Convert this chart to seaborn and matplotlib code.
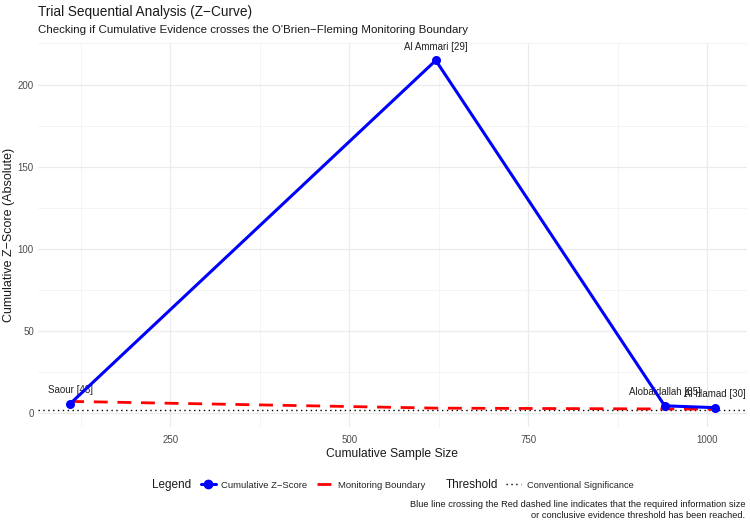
import pandas as pd
import seaborn as sns
import matplotlib.pyplot as plt
from matplotlib.lines import Line2D

# trial data
studies = ["Saour [48]", "Al Ammari [29]", "Alobaidallah [85]", "Al Hamad [30]"]
cum_n = [110, 621, 941, 1011]
cum_z = [5.5, 214.7, 4.2, 3.1]
boundary = [6.9, 2.8, 2.3, 2.2]
threshold = 1.96

df = pd.DataFrame({"study": studies, "n": cum_n, "z": cum_z, "bound": boundary})

sns.set_theme(style="whitegrid")
plt.rcParams["font.family"] = ["Liberation Sans", "DejaVu Sans"]

fig = plt.figure(figsize=(7.5, 5.27), dpi=100)
ax = fig.add_axes([38 / 750, 1 - 427 / 527, 709 / 750, 384 / 527])

grid_c = "#ebebeb"
ax.set_facecolor("white")
for s in ax.spines.values():
    s.set_visible(False)

# threshold, boundary, z-curve
ax.axhline(threshold, color="black", lw=1.0, ls=(0, (1, 2.5)), zorder=2)
sns.lineplot(data=df, x="n", y="bound", ax=ax, color="red", lw=2.0,
             dashes=False, legend=False, zorder=3)
ax.lines[-1].set_linestyle((0, (5, 3.5)))
sns.lineplot(data=df, x="n", y="z", ax=ax, color="blue", lw=2.2,
             marker="o", markersize=6.5, markeredgewidth=0, legend=False, zorder=4)

for _, r in df.iterrows():
    ax.annotate(r["study"], (r["n"], r["z"]), xytext=(0, 6), textcoords="offset points",
                ha="center", va="bottom", fontsize=7, color="#222222")

ax.set_xlim(65, 1056)
ax.set_ylim(-8.7, 225.3)
ax.set_xticks([250, 500, 750, 1000])
ax.set_xticks([125, 375, 625, 875], minor=True)
ax.set_yticks([0, 50, 100, 150, 200])
ax.set_yticks([25, 75, 125, 175, 225], minor=True)
ax.grid(True, which="major", color=grid_c, lw=0.9)
ax.grid(True, which="minor", color="#f3f3f3", lw=0.6)
ax.tick_params(axis="x", which="both", length=0, labelsize=7, labelcolor="#4d4d4d", pad=6)
ax.tick_params(axis="y", which="both", length=0, labelsize=7, labelcolor="#4d4d4d", pad=3)

ax.set_xlabel("Cumulative Sample Size", fontsize=8.7, color="#1a1a1a", labelpad=2)
ax.set_ylabel("Cumulative Z\u2212Score (Absolute)", fontsize=9, color="#1a1a1a", labelpad=2)

fig.text(38 / 750, 1 - 12 / 527, "Trial Sequential Analysis (Z\u2212Curve)", fontsize=9.8,
         va="center", ha="left", color="#1a1a1a")
fig.text(38 / 750, 1 - 30 / 527,
         "Checking if Cumulative Evidence crosses the O'Brien\u2212Fleming Monitoring Boundary",
         fontsize=8.25, va="center", ha="left", color="#1a1a1a")

# legends at the bottom
ly = 1 - 485 / 527
fig.text(152 / 750, ly, "Legend", fontsize=8.5, va="center", ha="left", color="#1a1a1a")
h1 = [Line2D([], [], color="blue", lw=2.2, marker="o", markersize=6),
      Line2D([], [], color="red", lw=2.0, ls=(0, (5, 3.5)))]
fig.legend(h1, ["Cumulative Z\u2212Score", "Monitoring Boundary"], ncol=2,
           loc="center left", bbox_to_anchor=(192 / 750, ly), frameon=False,
           fontsize=6.8, handlelength=1.6, handletextpad=0.6, columnspacing=1.0)
fig.text(446 / 750, ly, "Threshold", fontsize=8.5, va="center", ha="left", color="#1a1a1a")
h2 = [Line2D([], [], color="black", lw=1.0, ls=(0, (1, 2.5)))]
fig.legend(h2, ["Conventional Significance"], loc="center left",
           bbox_to_anchor=(498 / 750, ly), frameon=False, fontsize=6.7,
           handlelength=1.6, handletextpad=0.6)

fig.text(745 / 750, 1 - 510 / 527,
         "Blue line crossing the Red dashed line indicates that the required information size\n"
         "or conclusive evidence threshold has been reached.",
         fontsize=6.7, ha="right", va="center", color="#1a1a1a", linespacing=1.2)

fig.savefig("out.png", dpi=100)
